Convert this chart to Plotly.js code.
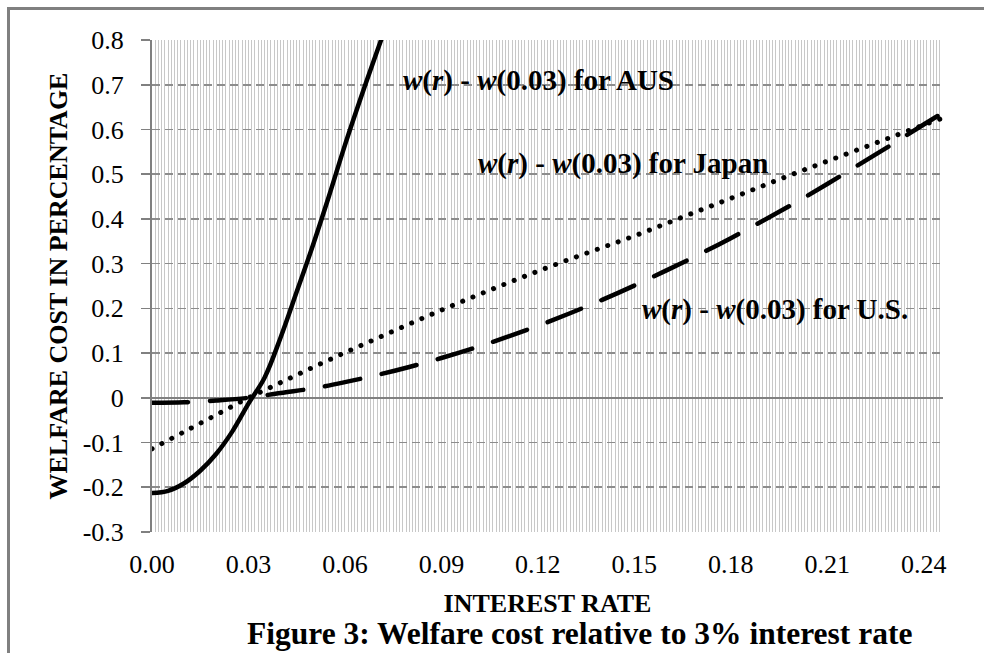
<!DOCTYPE html>
<html>
<head>
<meta charset="utf-8">
<script src="https://cdn.plot.ly/plotly-3.0.1.min.js"></script>
<style>
  html, body { margin: 0; padding: 0; background: #fff; overflow: hidden; }
  #wrap { position: relative; width: 984px; height: 653px; }
  #frame { position: absolute; left: 7px; top: 7px; width: 990px; height: 700px;
           border-left: 3px solid #808080; border-top: 3px solid #808080; pointer-events: none; }
  #chart { position: absolute; left: 0; top: 0; width: 984px; height: 653px; }
</style>
</head>
<body>
<div id="wrap">
  <div id="chart"></div>
  <div id="frame"></div>
</div>
<script>
// ---- data ----
const rateAUS = [0.000, 0.005, 0.010, 0.015, 0.020, 0.025, 0.030, 0.035, 0.040, 0.045, 0.050, 0.055, 0.060, 0.065, 0.070, 0.0715];
const costAUS = [-0.213, -0.208, -0.191, -0.163, -0.125, -0.075, -0.013, 0.045, 0.135, 0.237, 0.340, 0.450, 0.565, 0.672, 0.775, 0.805];

const rate = [0.00, 0.01, 0.02, 0.03, 0.04, 0.05, 0.06, 0.07, 0.08, 0.09, 0.10, 0.11, 0.12, 0.13, 0.14, 0.15, 0.16, 0.17, 0.18, 0.19, 0.20, 0.21, 0.22, 0.23, 0.24, 0.245];
const costJapan = [-0.114, -0.076, -0.038, 0.000, 0.034, 0.068, 0.101, 0.133, 0.165, 0.196, 0.226, 0.255, 0.283, 0.310, 0.336, 0.362, 0.390, 0.418, 0.446, 0.474, 0.502, 0.529, 0.556, 0.583, 0.610, 0.623];
const costUS = [-0.011, -0.010, -0.006, 0.000, 0.011, 0.021, 0.035, 0.051, 0.069, 0.089, 0.111, 0.135, 0.161, 0.189, 0.219, 0.251, 0.285, 0.320, 0.357, 0.396, 0.436, 0.478, 0.522, 0.566, 0.611, 0.633];

const xTickVals = [0, 0.03, 0.06, 0.09, 0.12, 0.15, 0.18, 0.21, 0.24];
const xTickText = ["0.00", "0.03", "0.06", "0.09", "0.12", "0.15", "0.18", "0.21", "0.24"];
const yTickVals = [-0.3, -0.2, -0.1, 0, 0.1, 0.2, 0.3, 0.4, 0.5, 0.6, 0.7, 0.8];
const yTickText = ["-0.3", "-0.2", "-0.1", "0", "0.1", "0.2", "0.3", "0.4", "0.5", "0.6", "0.7", "0.8"];

const labelAUS = "<b><i>w</i>(<i>r</i>) - <i>w</i>(0.03) for AUS</b>";
const labelJapan = "<b><i>w</i>(<i>r</i>) - <i>w</i>(0.03) for Japan</b>";
const labelUS = "<b><i>w</i>(<i>r</i>) - <i>w</i>(0.03) for U.S.</b>";
const caption = "<b>Figure 3: Welfare cost relative to 3% interest rate</b>";

const serif = '"Liberation Serif", "Times New Roman", serif';

const traces = [
  { x: rateAUS, y: costAUS, mode: 'lines', name: 'AUS',
    line: { color: '#000', width: 4.5, shape: 'spline', smoothing: 1 } },
  { x: rate, y: costJapan, mode: 'lines', name: 'Japan',
    line: { color: '#000', width: 5, dash: '0.1px,11px', shape: 'spline', smoothing: 1 } },
  { x: rate, y: costUS, mode: 'lines', name: 'U.S.',
    line: { color: '#000', width: 4.5, dash: '36px,22px', shape: 'spline', smoothing: 1 } }
];

const layout = {
  width: 984, height: 653,
  margin: { l: 152, r: 41, t: 40, b: 121 },
  paper_bgcolor: 'rgba(0,0,0,0)', plot_bgcolor: '#fff',
  showlegend: false,
  font: { family: serif, size: 26, color: '#000' },
  xaxis: {
    range: [0, 0.246], tickmode: 'array', tickvals: xTickVals, ticktext: xTickText,
    showgrid: true, gridcolor: '#c8c8c8', gridwidth: 1,
    minor: { tick0: 0, dtick: 0.001, showgrid: true, gridcolor: '#c8c8c8', gridwidth: 1, ticks: '' },
    zeroline: false, showline: false, ticks: '', ticklabelstandoff: 14,
    tickfont: { family: serif, size: 26, color: '#000' },
    title: { text: '<b>INTEREST RATE</b>', font: { family: serif, size: 26, color: '#000' }, standoff: 15 }
  },
  yaxis: {
    range: [-0.3, 0.8], tickmode: 'array', tickvals: yTickVals, ticktext: yTickText,
    showgrid: true, gridcolor: '#8c8c8c', gridwidth: 1.6, griddash: '8px,5px',
    zeroline: true, zerolinecolor: '#808080', zerolinewidth: 2,
    showline: true, linecolor: '#808080', linewidth: 2,
    ticks: 'outside', ticklen: 9, tickwidth: 1.6, tickcolor: '#808080', ticklabelstandoff: 12,
    tickfont: { family: serif, size: 26, color: '#000' },
    title: { text: '<b>WELFARE COST IN PERCENTAGE</b>', font: { family: serif, size: 26, color: '#000' }, standoff: 8 }
  },
  annotations: [
    { x: 0.1202, y: 0.71, xref: 'x', yref: 'y', text: labelAUS, showarrow: false,
      font: { family: serif, size: 29, color: '#000' } },
    { x: 0.1466, y: 0.525, xref: 'x', yref: 'y', text: labelJapan, showarrow: false,
      font: { family: serif, size: 29, color: '#000' } },
    { x: 0.1938, y: 0.198, xref: 'x', yref: 'y', text: labelUS, showarrow: false,
      font: { family: serif, size: 29, color: '#000' } },
    { x: 0.1176, y: -0.207, xref: 'paper', yref: 'paper', xanchor: 'left', yanchor: 'middle',
      text: caption, showarrow: false, font: { family: serif, size: 31.5, color: '#000' } }
  ]
};

Plotly.newPlot('chart', traces, layout, { staticPlot: true, displayModeBar: false }).then(function () {
  document.querySelectorAll('#chart .scatterlayer path.js-line').forEach(function (p) {
    p.style.strokeLinecap = 'round';
    p.style.strokeLinejoin = 'round';
  });
});
</script>
</body>
</html>
